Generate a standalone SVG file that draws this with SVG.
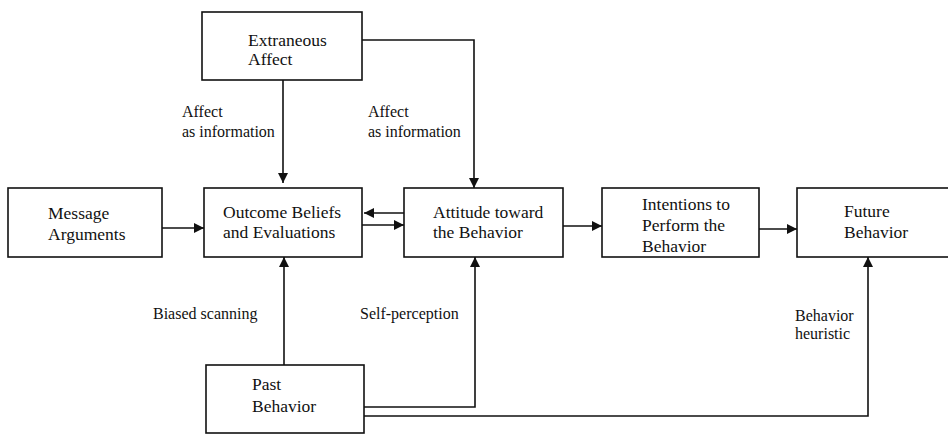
<svg xmlns="http://www.w3.org/2000/svg" width="948" height="435" viewBox="0 0 948 435">
<style>
.box{fill:#fff;stroke:#111;stroke-width:1.6}
.nt{font-family:"Liberation Serif","Times New Roman",serif;font-size:17.5px;fill:#111}
.lt{font-family:"Liberation Serif","Times New Roman",serif;font-size:16px;fill:#111}
.ln{fill:none;stroke:#111;stroke-width:1.6}
</style>
<defs>
<marker id="ah" viewBox="0 0 10 10" refX="10" refY="5" markerWidth="10" markerHeight="10" markerUnits="userSpaceOnUse" orient="auto">
<path d="M0,0 L10,5 L0,10 Z" fill="#111"/>
</marker>
</defs>
<rect width="948" height="435" fill="#fff"/>
<g id="connectors">
<path class="ln" d="M283,80 V183" marker-end="url(#ah)"/>
<path class="ln" d="M362,40 H474 V188" marker-end="url(#ah)"/>
<path class="ln" d="M162,228 H204" marker-end="url(#ah)"/>
<path class="ln" d="M362,225 H404" marker-end="url(#ah)"/>
<path class="ln" d="M404,213 H364" marker-end="url(#ah)"/>
<path class="ln" d="M563,226 H602" marker-end="url(#ah)"/>
<path class="ln" d="M759,229 H797" marker-end="url(#ah)"/>
<path class="ln" d="M284,365 V257" marker-end="url(#ah)"/>
<path class="ln" d="M364,407 H475 V257" marker-end="url(#ah)"/>
<path class="ln" d="M364,416 H868 V257" marker-end="url(#ah)"/>
<text class="lt" x="182" y="117">Affect</text>
<text class="lt" x="182" y="137">as information</text>
<text class="lt" x="368" y="117">Affect</text>
<text class="lt" x="368" y="137">as information</text>
<text class="lt" x="153" y="319">Biased scanning</text>
<text class="lt" x="360" y="319">Self-perception</text>
<text class="lt" x="795" y="321">Behavior</text>
<text class="lt" x="795" y="339">heuristic</text>
</g>
<g id="extraneous-affect">
<rect class="box" x="202" y="12" width="160" height="68"/>
<text class="nt" x="248" y="46">Extraneous</text>
<text class="nt" x="248" y="65">Affect</text>
</g>
<g id="message-arguments">
<rect class="box" x="8" y="188" width="154" height="69"/>
<text class="nt" x="48" y="219">Message</text>
<text class="nt" x="48" y="240">Arguments</text>
</g>
<g id="outcome-beliefs">
<rect class="box" x="204" y="188" width="158" height="69"/>
<text class="nt" x="223" y="218">Outcome Beliefs</text>
<text class="nt" x="223" y="238">and Evaluations</text>
</g>
<g id="attitude">
<rect class="box" x="404" y="188" width="159" height="69"/>
<text class="nt" x="433" y="218">Attitude toward</text>
<text class="nt" x="433" y="238">the Behavior</text>
</g>
<g id="intentions">
<rect class="box" x="602" y="188" width="157" height="69"/>
<text class="nt" x="642" y="210">Intentions to</text>
<text class="nt" x="642" y="231">Perform the</text>
<text class="nt" x="642" y="252">Behavior</text>
</g>
<g id="future-behavior">
<rect class="box" x="797" y="188" width="160" height="69"/>
<text class="nt" x="844" y="217">Future</text>
<text class="nt" x="844" y="238">Behavior</text>
</g>
<g id="past-behavior">
<rect class="box" x="206" y="365" width="158" height="68"/>
<text class="nt" x="252" y="390">Past</text>
<text class="nt" x="252" y="412">Behavior</text>
</g>
</svg>
